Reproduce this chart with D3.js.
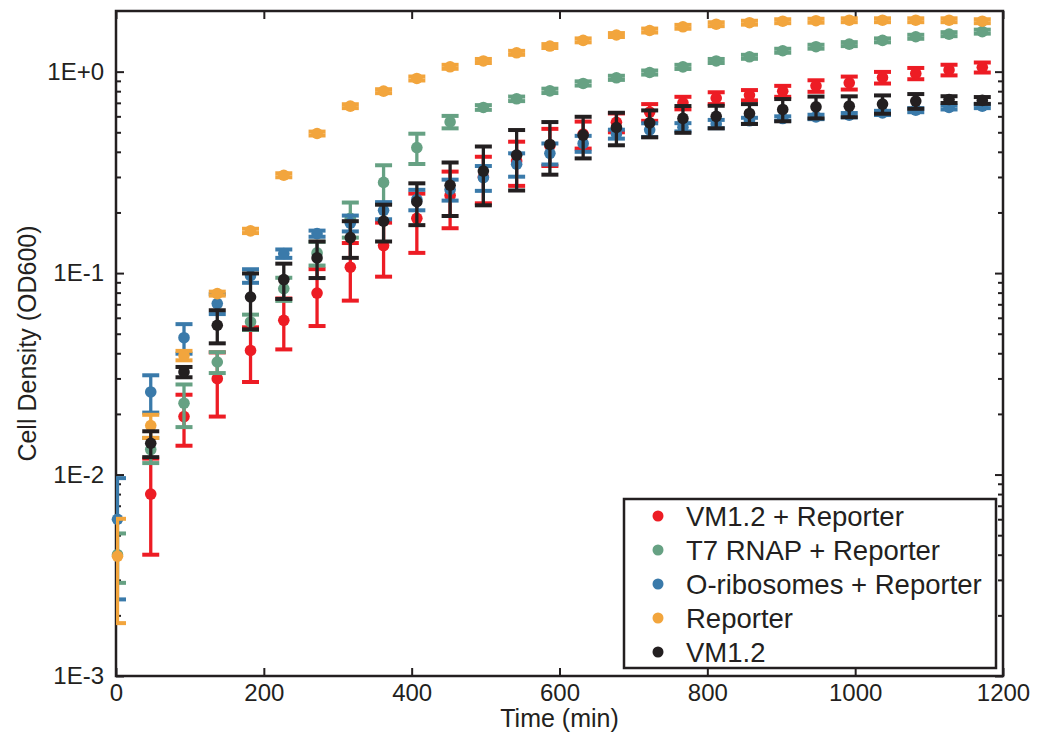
<!DOCTYPE html>
<meta charset="utf-8">
<title>Cell density</title>
<script src="https://d3js.org/d3.v7.min.js"></script>
<style>
  body { margin: 0; background: #fff; }
  text { font-family: "Liberation Sans", Arial, Helvetica, sans-serif; fill: #231f20; }
</style>
<body>
</body>
<script>
  width = 1040;
  height = 742;

  // sampling times (min)
  const times = [2, 47, 92, 137, 182, 227, 272, 317, 362, 407, 452, 497, 542, 587, 632, 677, 722, 767, 812, 857, 902, 947, 992, 1037, 1082, 1127, 1172];

  // OD600 means and standard deviations per strain
  const vmReporterMean = [null, 0.0080, 0.0194, 0.0299, 0.0413, 0.0583, 0.0796, 0.107, 0.137, 0.187, 0.243, 0.300, 0.360, 0.430, 0.490, 0.560, 0.630, 0.700, 0.740, 0.765, 0.800, 0.850, 0.880, 0.935, 0.980, 1.020, 1.050];
  const vmReporterSd = [null, 0.0040, 0.0055, 0.0105, 0.0125, 0.0165, 0.025, 0.034, 0.041, 0.061, 0.076, 0.078, 0.089, 0.090, 0.075, 0.060, 0.060, 0.050, 0.050, 0.045, 0.050, 0.056, 0.065, 0.062, 0.063, 0.062, 0.060];

  const t7Mean = [0.0040, 0.0133, 0.0226, 0.0362, 0.0572, 0.0838, 0.126, 0.187, 0.282, 0.420, 0.563, 0.664, 0.733, 0.803, 0.874, 0.932, 0.990, 1.056, 1.130, 1.185, 1.270, 1.330, 1.370, 1.430, 1.490, 1.535, 1.580];
  const t7Sd = [0.0011, 0.0019, 0.0054, 0.0043, 0.0050, 0.011, 0.017, 0.037, 0.061, 0.072, 0.040, 0.018, 0.019, 0.020, 0.021, 0.022, 0.023, 0.025, 0.026, 0.027, 0.029, 0.030, 0.031, 0.032, 0.034, 0.035, 0.036];

  const oriboMean = [0.0060, 0.0257, 0.0478, 0.0706, 0.097, 0.125, 0.157, 0.177, 0.205, 0.232, 0.260, 0.298, 0.347, 0.393, 0.440, 0.490, 0.514, 0.530, 0.550, 0.570, 0.585, 0.596, 0.608, 0.624, 0.644, 0.664, 0.674];
  const oriboSd = [0.0036, 0.0054, 0.008, 0.008, 0.0075, 0.006, 0.0055, 0.016, 0.020, 0.027, 0.031, 0.042, 0.046, 0.047, 0.040, 0.025, 0.040, 0.025, 0.026, 0.020, 0.015, 0.015, 0.015, 0.015, 0.015, 0.015, 0.015];

  const reporterMean = [0.00393, 0.0175, 0.039, 0.0791, 0.162, 0.306, 0.493, 0.674, 0.800, 0.925, 1.057, 1.130, 1.240, 1.340, 1.430, 1.520, 1.600, 1.670, 1.720, 1.750, 1.780, 1.790, 1.800, 1.800, 1.800, 1.800, 1.780];
  const reporterSd = [0.0021, 0.0023, 0.0021, 0.0018, 0.004, 0.007, 0.011, 0.015, 0.018, 0.021, 0.024, 0.026, 0.028, 0.030, 0.032, 0.034, 0.036, 0.037, 0.038, 0.039, 0.040, 0.040, 0.040, 0.040, 0.040, 0.040, 0.040];

  const vmMean = [null, 0.0143, 0.0323, 0.0551, 0.0761, 0.0929, 0.119, 0.150, 0.181, 0.226, 0.273, 0.321, 0.385, 0.435, 0.484, 0.528, 0.557, 0.586, 0.600, 0.620, 0.649, 0.669, 0.674, 0.690, 0.714, 0.727, 0.720];
  const vmSd = [null, 0.0021, 0.0019, 0.0103, 0.0235, 0.0185, 0.0245, 0.031, 0.0375, 0.053, 0.081, 0.104, 0.128, 0.127, 0.113, 0.097, 0.085, 0.089, 0.077, 0.070, 0.082, 0.083, 0.080, 0.072, 0.060, 0.028, 0.028];

  const seriesNames = ["VM1.2 + Reporter", "T7 RNAP + Reporter", "O-ribosomes + Reporter", "Reporter", "VM1.2"];
  const seriesColors = ["#ed1c24", "#66a183", "#3a7aaa", "#f2a53d", "#231f20"];
  const xTicks = [0, 200, 400, 600, 800, 1000, 1200];
  const yTicks = [1e-3, 1e-2, 1e-1, 1];
  const yTickLabels = ["1E-3", "1E-2", "1E-1", "1E+0"];

  const series = [
    [vmReporterMean, vmReporterSd],
    [t7Mean, t7Sd],
    [oriboMean, oriboSd],
    [reporterMean, reporterSd],
    [vmMean, vmSd]
  ].map(([m, s], i) => ({
    name: seriesNames[i],
    color: seriesColors[i],
    values: times.map((t, j) => ({ t: t, mean: m[j], sd: s[j] })).filter(d => d.mean != null)
  }));

  const plotL = 116, plotR = 1003, plotT = 11, plotB = 676;

  const x = d3.scaleLinear().domain([0, 1200]).range([plotL, plotR]);
  const y = d3.scaleLog().domain([1e-3, 2]).range([plotB, plotT]);

  const minorTicks = [];
  [-3, -2, -1].forEach(e => { for (let m = 2; m <= 9; m++) minorTicks.push(m * Math.pow(10, e)); });

  const svg = d3.select('body').append("svg").attr("width", width).attr("height", height);

  svg.append("defs").append("clipPath").attr("id", "plotclip")
    .append("rect").attr("x", plotL).attr("y", plotT).attr("width", plotR - plotL).attr("height", plotB - plotT);

  ////////////////////////////////////////////////////////////
  ///////////////////////// Axes /////////////////////////////
  ////////////////////////////////////////////////////////////

  const fmtY = d => yTickLabels[yTicks.indexOf(d)];

  function styleAxis(g, fs) {
    g.select(".domain").remove();
    g.selectAll("line").attr("stroke", "#231f20").attr("stroke-width", 2);
    g.selectAll("text").style("font-size", fs + "px").attr("fill", "#231f20");
  }

  svg.append("g").attr("transform", `translate(${plotL},0)`)
    .call(d3.axisLeft(y).tickValues(yTicks).tickFormat(fmtY).tickSize(-8).tickPadding(12))
    .call(g => styleAxis(g, 24));
  svg.append("g").attr("transform", `translate(${plotL},0)`)
    .call(d3.axisLeft(y).tickValues(minorTicks).tickFormat("").tickSize(-5))
    .call(g => styleAxis(g, 24));
  svg.append("g").attr("transform", `translate(${plotR},0)`)
    .call(d3.axisRight(y).tickValues(yTicks).tickFormat("").tickSize(-8))
    .call(g => styleAxis(g, 24));
  svg.append("g").attr("transform", `translate(${plotR},0)`)
    .call(d3.axisRight(y).tickValues(minorTicks).tickFormat("").tickSize(-5))
    .call(g => styleAxis(g, 24));
  svg.append("g").attr("transform", `translate(0,${plotB})`)
    .call(d3.axisBottom(x).tickValues(xTicks).tickFormat(d3.format("d")).tickSize(-8).tickPadding(8))
    .call(g => styleAxis(g, 24));
  svg.append("g").attr("transform", `translate(0,${plotT})`)
    .call(d3.axisTop(x).tickValues(xTicks).tickFormat("").tickSize(-8))
    .call(g => styleAxis(g, 24));

  svg.append("rect")
    .attr("x", plotL).attr("y", plotT).attr("width", plotR - plotL).attr("height", plotB - plotT)
    .attr("fill", "none").attr("stroke", "#231f20").attr("stroke-width", 2.5);

  svg.append("text")
    .attr("x", (plotL + plotR) / 2).attr("y", 727)
    .attr("text-anchor", "middle").style("font-size", "25px")
    .text("Time (min)");

  svg.append("text")
    .attr("transform", `translate(36,${(plotT + plotB) / 2}) rotate(-90)`)
    .attr("text-anchor", "middle").style("font-size", "25px")
    .text("Cell Density (OD600)");

  ////////////////////////////////////////////////////////////
  ///////////////////// Error bars + dots ////////////////////
  ////////////////////////////////////////////////////////////

  const capW = 8.5;
  const lowY = d => y(Math.max(d.mean - d.sd, 1e-4));
  const highY = d => y(d.mean + d.sd);

  const sg = svg.append("g").selectAll("g")
    .data(series)
    .join("g")
    .attr("stroke", d => d.color)
    .attr("fill", d => d.color);

  const bars = sg.append("g").attr("clip-path", "url(#plotclip)")
    .selectAll("g")
    .data(d => d.values)
    .join("g");

  bars.append("line")
    .attr("x1", d => x(d.t)).attr("x2", d => x(d.t))
    .attr("y1", lowY).attr("y2", highY)
    .attr("stroke-width", 3.3);
  bars.append("line")
    .attr("x1", d => x(d.t) - capW).attr("x2", d => x(d.t) + capW)
    .attr("y1", highY).attr("y2", highY)
    .attr("stroke-width", 4);
  bars.append("line")
    .attr("x1", d => x(d.t) - capW).attr("x2", d => x(d.t) + capW)
    .attr("y1", lowY).attr("y2", lowY)
    .attr("stroke-width", 4);

  sg.append("g")
    .selectAll("circle")
    .data(d => d.values)
    .join("circle")
    .attr("cx", d => x(d.t))
    .attr("cy", d => y(d.mean))
    .attr("r", 5.8)
    .attr("stroke", "none");

  ////////////////////////////////////////////////////////////
  ///////////////////////// Legend ///////////////////////////
  ////////////////////////////////////////////////////////////

  const lg = svg.append("g");
  lg.append("rect")
    .attr("x", 624).attr("y", 499).attr("width", 372).attr("height", 169)
    .attr("fill", "#fff").attr("stroke", "#231f20").attr("stroke-width", 2.5);

  const item = lg.selectAll("g.item")
    .data(series)
    .join("g")
    .attr("class", "item")
    .attr("transform", (d, i) => `translate(658,${516 + i * 34})`);

  item.append("circle").attr("r", 5.5).attr("fill", d => d.color);
  item.append("text")
    .attr("x", 28).attr("y", 9.5)
    .style("font-size", "27.5px")
    .text(d => d.name);
</script>
